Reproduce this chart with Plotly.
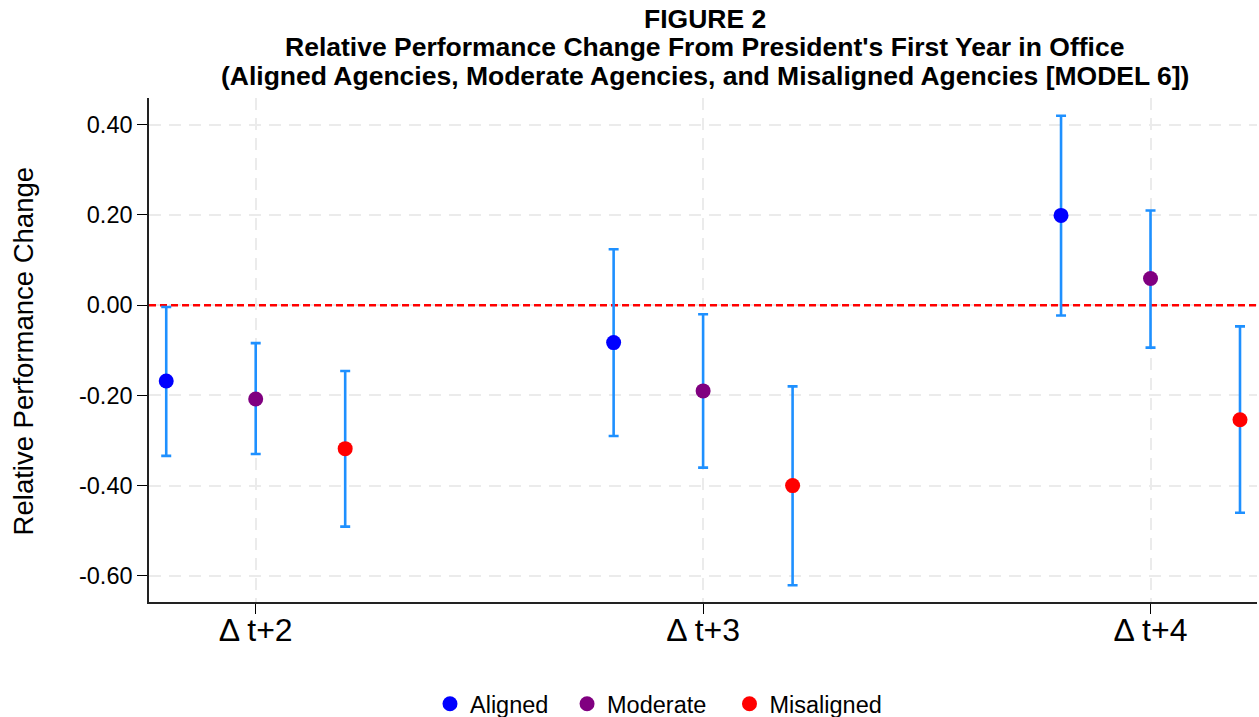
import plotly.graph_objects as go

# Horizon categories on the x axis
periods = ["Δ t+2", "Δ t+3", "Δ t+4"]

# Point estimates and 95% confidence bounds by agency group
aligned_est = [-0.168, -0.083, 0.199]
aligned_lo = [-0.334, -0.290, -0.023]
aligned_hi = [-0.004, 0.124, 0.420]

moderate_est = [-0.208, -0.190, 0.059]
moderate_lo = [-0.330, -0.360, -0.094]
moderate_hi = [-0.084, -0.020, 0.210]

misaligned_est = [-0.318, -0.400, -0.254]
misaligned_lo = [-0.491, -0.621, -0.460]
misaligned_hi = [-0.146, -0.180, -0.047]

# Y tick values and their printed labels
y_ticks = [-0.6, -0.4, -0.2, 0.0, 0.2, 0.4]
y_tick_labels = ["-0.60", "-0.40", "-0.20", "0.00", "0.20", "0.40"]

FONT = "Liberation Sans, Arial, Helvetica, sans-serif"
CI_COLOR = "#1E90FF"
X_RANGE = [-0.2385, 2.238]
Y_RANGE = [-0.658, 0.4593]

groups = [
    ("Aligned", aligned_est, aligned_lo, aligned_hi, "#0000FF", -0.2, "legend", 0.2536),
    ("Moderate", moderate_est, moderate_lo, moderate_hi, "#800080", 0.0, "legend2", 0.3773),
    ("Misaligned", misaligned_est, misaligned_lo, misaligned_hi, "#FF0000", 0.2, "legend3", 0.5239),
]

fig = go.Figure()

# Dashed reference line at zero across the full axis span (drawn first, under the estimates)
fig.add_trace(go.Scatter(
    x=X_RANGE, y=[0, 0], mode="lines", showlegend=False, hoverinfo="skip",
    line=dict(color="#FF0000", width=2.5, dash="7px,4px"),
))

legend_layout = {}
for name, est, lo, hi, color, shift, leg, leg_x in groups:
    xs = [i + shift for i in range(len(periods))]
    fig.add_trace(go.Scatter(
        x=xs, y=est, mode="markers", name=name, legend=leg, showlegend=True,
        marker=dict(color=color, size=15, line=dict(width=0)),
        error_y=dict(
            type="data", symmetric=False,
            array=[h - e for h, e in zip(hi, est)],
            arrayminus=[e - l for e, l in zip(est, lo)],
            color=CI_COLOR, thickness=2.6, width=5,
        ),
    ))
    legend_layout[leg] = dict(
        x=leg_x, xanchor="left", y=-0.2024, yanchor="middle",
        orientation="h", bgcolor="rgba(0,0,0,0)",
        font=dict(family=FONT, size=23.5, color="black"),
    )

title_lines = [
    "FIGURE 2",
    "Relative Performance Change From President's First Year in Office",
    "(Aligned Agencies, Moderate Agencies, and Misaligned Agencies [MODEL 6])",
]
title_y = [1.1569, 1.1007, 1.0446]
annotations = [
    dict(text=t, x=0.5015, y=y, xref="paper", yref="paper",
         xanchor="center", yanchor="middle", showarrow=False,
         font=dict(family=FONT, size=26.5, color="black", weight="bold"))
    for t, y in zip(title_lines, title_y)
]
annotations.append(dict(
    text="Relative Performance Change", x=-0.1137, y=0.4973,
    xref="paper", yref="paper", xanchor="center", yanchor="middle",
    textangle=-90, showarrow=False,
    font=dict(family=FONT, size=27.5, color="black"),
))

grid_style = dict(showgrid=True, gridcolor="#EBEBEB", gridwidth=2, griddash="12px,8px")

fig.update_layout(
    width=1259, height=717,
    margin=dict(l=149, r=2, t=98, b=115, autoexpand=False),
    paper_bgcolor="white", plot_bgcolor="white",
    font=dict(family=FONT, color="black"),
    showlegend=True,
    annotations=annotations,
    **legend_layout,
    xaxis=dict(
        range=X_RANGE, tickvals=list(range(len(periods))), ticktext=periods,
        tickfont=dict(family=FONT, size=32, color="black"),
        ticks="outside", ticklen=10, tickwidth=1.3, tickcolor="black",
        ticklabelstandoff=-11,
        showline=True, linecolor="#222222", linewidth=1.5,
        zeroline=False, **grid_style,
    ),
    yaxis=dict(
        range=Y_RANGE, tickvals=y_ticks, ticktext=y_tick_labels,
        tickfont=dict(family=FONT, size=23.5, color="black"),
        ticks="outside", ticklen=10, tickwidth=1.3, tickcolor="black",
        showline=True, linecolor="#222222", linewidth=1.5,
        zeroline=False, **grid_style,
    ),
)

fig.write_html("out.html")
